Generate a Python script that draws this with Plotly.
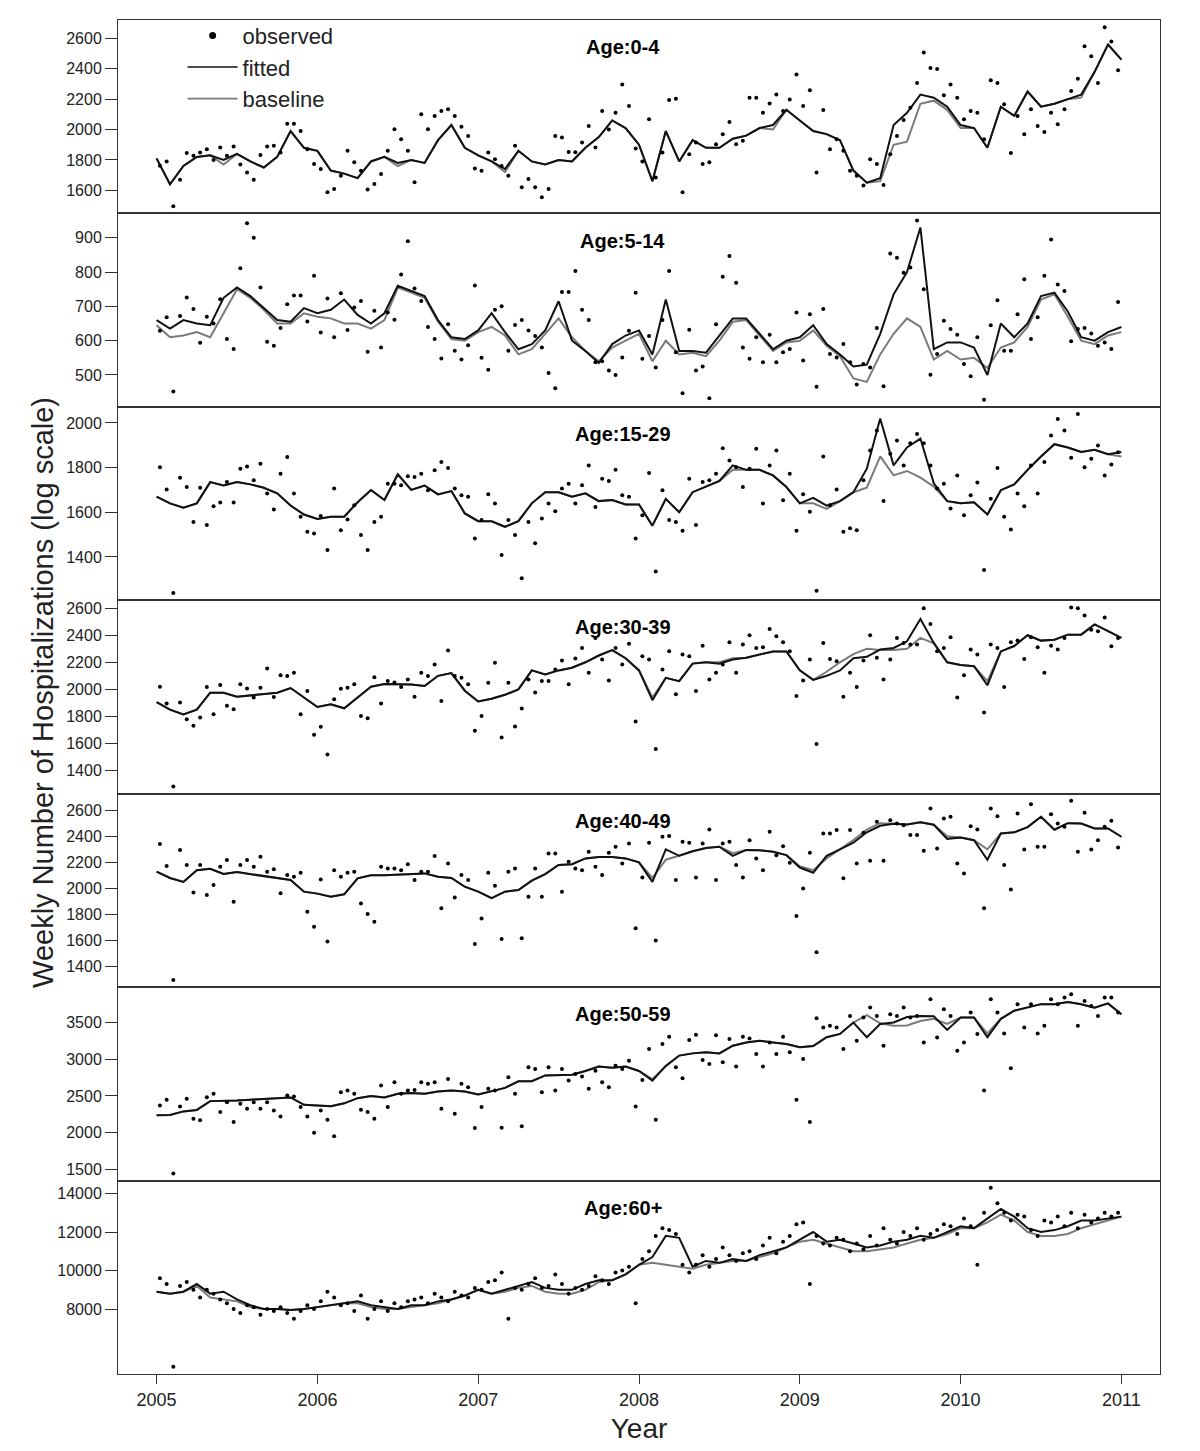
import numpy as np
import plotly.graph_objects as go
from plotly.subplots import make_subplots

# time grids (fractional years)
t_fit = 2005 + np.arange(73) / 12
t_obs = 2005 + (np.arange(144) + 0.5) / 24

# ---------------- Age 0-4 ----------------
fit_0_4 = [1810,1640,1760,1820,1830,1800,1840,1790,1750,1820,1990,1880,
           1860,1730,1710,1680,1790,1820,1780,1800,1780,1930,2030,1880,
           1830,1790,1740,1860,1790,1770,1800,1790,1880,1950,2060,2010,
           1900,1660,1990,1790,1930,1880,1880,1940,1960,2010,2030,2130,
           2060,1990,1970,1930,1730,1650,1680,2030,2110,2230,2210,2150,
           2030,2010,1880,2150,2090,2250,2150,2170,2200,2230,2380,2560,
           2460]
base_0_4 = [1810,1640,1760,1820,1830,1770,1840,1790,1750,1820,1990,1880,
            1860,1730,1710,1680,1790,1820,1760,1800,1780,1930,2030,1880,
            1830,1790,1720,1860,1790,1770,1800,1790,1880,1950,2060,2010,
            1900,1660,1990,1790,1930,1880,1880,1940,1960,2010,2000,2130,
            2060,1990,1970,1930,1730,1650,1660,1900,1920,2170,2190,2130,
            2010,2010,1880,2150,2090,2250,2150,2170,2200,2210,2380,2560,
            2460]
obs_0_4 = [1762,1790,1495,1670,1845,1827,1849,1871,1800,1882,1827,1888,1770,1718,1670,1832,1888,1893,1849,2039,2039,1991,1871,1773,
           1740,1587,1609,1696,1860,1784,1729,1605,1642,1707,1860,2002,1936,1860,1653,2100,2002,2089,2122,2133,2089,2019,1958,1744,
           1729,1849,1805,1760,1696,1893,1620,1674,1620,1554,1609,1958,1947,1853,1850,1914,2024,1882,2122,2000,2111,2297,2155,1875,
           1790,2067,1685,1849,2194,2203,1587,1838,1914,1773,1784,1904,1969,2050,1904,1926,2209,2209,2111,2172,2231,2122,2198,2362,
           2155,2259,1718,2128,1871,1936,1860,1729,1696,1631,1805,1773,1635,1838,1958,2063,2144,2307,2508,2406,2399,2225,2297,2209,
           2067,2122,2111,1936,2325,2307,2166,1845,2089,1969,2133,2024,1984,2111,2035,2133,2253,2334,2548,2482,2307,2674,2580,2390]

# ---------------- Age 5-14 ----------------
fit_5_14 = [660,635,660,650,645,725,755,730,695,660,655,695,
            680,690,720,675,650,680,760,745,730,660,610,605,
            630,680,625,575,590,630,715,600,570,535,590,615,
            630,560,720,570,570,565,615,665,665,620,575,600,
            610,645,590,560,525,530,620,735,800,930,575,595,
            595,580,500,650,610,650,730,740,685,610,600,625,
            640]
base_5_14 = [645,610,615,625,610,680,750,725,690,650,650,680,
             670,665,650,650,635,660,755,740,725,655,605,600,
             625,640,615,560,575,620,665,610,570,540,580,600,
             620,540,600,560,565,555,600,655,660,615,570,595,
             600,630,585,555,490,480,560,620,665,640,545,570,
             545,550,520,580,595,640,720,735,670,600,590,615,
             625]
obs_5_14 = [629,668,452,672,726,692,594,670,650,721,605,576,811,942,900,755,597,585,637,706,732,732,656,789,
            624,723,610,738,631,697,716,568,687,580,682,661,793,890,752,716,640,605,548,648,571,545,587,761,
            550,515,690,700,571,646,660,630,614,580,506,461,742,742,803,690,660,537,540,513,500,551,629,740,
            547,614,522,660,803,566,447,632,513,525,432,648,786,847,769,580,547,610,537,617,537,566,576,682,
            542,677,466,692,561,551,590,537,472,532,522,637,467,854,842,798,813,950,750,501,561,658,634,617,
            532,496,610,428,645,718,571,571,677,779,605,668,789,895,764,745,598,634,637,621,585,595,576,713]

# ---------------- Age 15-29 ----------------
fit_15_29 = [1670,1640,1620,1640,1735,1720,1735,1725,1710,1685,1630,1590,
             1570,1580,1580,1645,1700,1655,1770,1700,1720,1680,1695,1595,
             1560,1560,1535,1560,1640,1690,1690,1670,1685,1650,1655,1635,
             1635,1540,1660,1600,1690,1715,1740,1810,1790,1790,1765,1713,
             1640,1665,1630,1650,1690,1795,2020,1810,1890,1930,1730,1650,
             1640,1645,1590,1699,1725,1790,1850,1905,1890,1870,1880,1860,
             1870]
base_15_29 = [1670,1640,1620,1640,1735,1720,1735,1725,1710,1685,1630,1590,
              1570,1580,1580,1645,1700,1655,1770,1700,1720,1680,1695,1595,
              1560,1560,1535,1560,1640,1690,1690,1670,1685,1650,1655,1635,
              1635,1540,1660,1600,1690,1715,1740,1790,1790,1790,1765,1713,
              1640,1640,1615,1650,1690,1710,1850,1765,1785,1755,1715,1650,
              1640,1645,1590,1699,1725,1790,1850,1905,1890,1870,1880,1860,
              1850]
obs_15_29 = [1802,1702,1238,1755,1713,1557,1710,1543,1627,1644,1736,1644,1795,1805,1743,1817,1684,1612,1773,1847,1684,1580,1513,1505,
             1583,1431,1706,1520,1568,1632,1498,1431,1557,1580,1728,1728,1721,1761,1758,1773,1699,1788,1825,1798,1706,1676,1669,1483,
             1565,1681,1639,1409,1565,1498,1305,1557,1461,1572,1639,1605,1706,1728,1639,1721,1810,1624,1750,1740,1791,1676,1669,1483,
             1587,1776,1335,1699,1565,1557,1517,1750,1543,1736,1743,1773,1887,1832,1802,1713,1795,1884,1639,1810,1877,1654,1773,1517,
             1681,1602,1249,1850,1632,1702,1513,1528,1520,1743,1877,1966,1650,1862,1921,1810,1909,1951,1909,1810,1706,1728,1617,1765,
             1587,1676,1733,1342,1661,1798,1580,1523,1684,1627,1810,1684,1825,1944,2018,1966,1844,2040,1802,1840,1899,1765,1814,1869]

# ---------------- Age 30-39 ----------------
fit_30_39 = [1905,1850,1815,1850,1975,1975,1945,1955,1965,1975,2010,1940,
             1870,1890,1860,1940,2020,2040,2040,2035,2025,2100,2120,1990,
             1910,1930,1960,2000,2140,2110,2140,2160,2200,2250,2290,2230,
             2140,1920,2085,2060,2190,2200,2190,2220,2233,2257,2280,2280,
             2140,2070,2100,2140,2230,2240,2294,2306,2355,2520,2343,2200,
             2180,2171,2030,2280,2320,2400,2360,2367,2404,2404,2480,2430,
             2380]
base_30_39 = [1905,1850,1815,1850,1975,1975,1945,1955,1965,1975,2010,1940,
              1870,1890,1860,1940,2020,2040,2040,2035,2025,2100,2120,1990,
              1910,1930,1960,2000,2140,2110,2140,2160,2200,2250,2290,2230,
              2140,1940,2085,2060,2190,2200,2200,2230,2233,2257,2280,2280,
              2140,2070,2130,2200,2260,2300,2290,2290,2300,2380,2340,2200,
              2180,2171,2060,2280,2320,2400,2360,2367,2404,2404,2480,2430,
              2380]
obs_30_39 = [2020,1895,1282,1902,1780,1731,1792,2017,1816,2032,1878,1853,2037,2007,1939,2012,2154,1944,2105,2098,2122,1816,1988,1664,
             1723,1518,1927,2005,2012,2037,1804,1787,2090,1895,2061,2050,2017,2073,1946,2122,2098,2184,1914,2287,2098,2086,2037,1694,
             1804,2049,2196,1645,2049,1726,1858,2073,1976,2061,2061,2147,2213,2037,2228,2306,2122,2380,2220,2066,2306,2184,2336,1762,
             2245,2220,1559,2147,2282,1963,2257,2245,1988,2323,2073,2122,2184,2348,2122,2331,2399,2306,2311,2446,2392,2348,2282,1951,
             2066,2220,1596,2343,2225,2208,1946,2122,2017,2213,2399,2233,2073,2220,2380,2343,2331,2331,2600,2482,2282,2306,2384,1939,
             2105,2294,2257,1829,2331,2306,2017,2348,2360,2225,2384,2311,2122,2323,2294,2380,2605,2600,2546,2441,2429,2531,2318,2380]

# ---------------- Age 40-49 ----------------
fit_40_49 = [2128,2080,2050,2140,2150,2110,2125,2110,2090,2077,2064,1975,
             1960,1936,1955,2077,2100,2100,2105,2110,2115,2089,2080,2013,
             1975,1925,1975,1987,2060,2110,2180,2185,2230,2240,2240,2230,
             2200,2050,2300,2250,2285,2310,2320,2250,2295,2292,2281,2255,
             2160,2120,2250,2300,2350,2430,2480,2495,2490,2508,2488,2380,
             2390,2370,2220,2421,2430,2470,2549,2450,2500,2498,2460,2460,
             2396]
base_40_49 = [2128,2080,2050,2140,2150,2110,2125,2110,2090,2077,2064,1975,
              1960,1936,1955,2077,2100,2100,2105,2110,2115,2089,2080,2013,
              1975,1925,1975,1987,2060,2110,2180,2185,2230,2240,2240,2230,
              2200,2080,2220,2250,2285,2310,2320,2270,2295,2292,2281,2255,
              2170,2140,2230,2300,2370,2450,2500,2495,2490,2508,2488,2400,
              2390,2370,2300,2421,2430,2470,2549,2450,2500,2498,2460,2460,
              2396]
obs_40_49 = [2340,2171,1298,2294,2179,1969,2179,1949,2026,2166,2217,1898,2179,2217,2166,2243,2128,2146,1962,2102,2089,2120,1821,1706,
             2069,1592,2140,2089,2120,2128,1885,1803,1745,2166,2153,2153,2140,2186,2064,2128,2128,2248,1847,2191,1931,2102,2064,1574,
             1770,2120,2020,1612,2128,2153,1617,1936,2153,1936,2268,2268,1974,2204,2153,2140,2281,2166,2102,2273,2319,2191,2345,1694,
             2084,2350,1600,2396,2401,2064,2357,2350,2084,2345,2452,2064,2345,2357,2179,2084,2370,2230,2140,2434,2255,2324,2197,1788,
             2000,2273,1510,2421,2421,2447,2077,2447,2191,2426,2212,2511,2212,2523,2498,2485,2409,2409,2289,2613,2306,2536,2549,2191,
             2115,2477,2452,1847,2613,2554,2179,1992,2575,2299,2646,2319,2319,2569,2498,2472,2671,2281,2580,2299,2370,2472,2518,2314]

# ---------------- Age 50-59 ----------------
fit_50_59 = [2236,2240,2290,2310,2430,2430,2440,2450,2460,2465,2480,2380,
             2371,2360,2400,2470,2500,2480,2530,2540,2530,2560,2575,2560,
             2520,2565,2610,2700,2700,2780,2790,2790,2840,2900,2885,2900,
             2840,2710,2913,3050,3080,3094,3080,3185,3229,3252,3229,3207,
             3162,3180,3300,3345,3500,3300,3480,3500,3575,3590,3585,3400,
             3568,3568,3300,3550,3660,3700,3750,3750,3780,3748,3703,3760,
             3613]
base_50_59 = [2236,2240,2290,2310,2430,2430,2440,2450,2460,2465,2480,2380,
              2371,2360,2400,2470,2500,2480,2530,2540,2530,2560,2575,2560,
              2520,2565,2610,2700,2700,2780,2790,2790,2840,2900,2885,2900,
              2840,2730,2900,3050,3080,3094,3080,3185,3229,3252,3229,3207,
              3162,3180,3300,3345,3500,3600,3490,3455,3460,3520,3550,3480,
              3568,3568,3350,3550,3660,3700,3750,3750,3780,3748,3703,3760,
              3613]
obs_50_59 = [2371,2448,1446,2358,2462,2191,2168,2484,2530,2281,2416,2146,2394,2326,2416,2326,2416,2303,2222,2507,2493,2349,2222,2001,
             2303,2177,1951,2552,2575,2530,2313,2281,2191,2642,2349,2687,2530,2575,2583,2687,2665,2687,2326,2732,2258,2665,2620,2064,
             2349,2597,2575,2069,2755,2530,2087,2890,2868,2552,2890,2575,2868,2710,2800,2764,2597,2845,2687,2620,2913,2868,2981,2358,
             2719,3139,2177,3207,3306,2890,2742,3261,3333,2990,2936,3328,2958,3274,2900,3306,3284,3071,2900,3229,3071,3306,3094,2448,
             3004,2146,3559,3432,3455,3432,3139,3590,3252,3568,3703,3590,3184,3613,3590,3703,3568,3590,3229,3816,3297,3681,3590,3116,
             3229,3635,3342,2574,3816,3635,3351,2877,3748,3432,3748,3351,3455,3816,3748,3839,3884,3455,3793,3726,3590,3839,3839,3635]

# ---------------- Age 60+ ----------------
fit_60 = [8900,8800,8900,9300,8800,8900,8500,8200,8000,8000,7950,8000,
          8100,8200,8300,8400,8200,8100,8000,8200,8200,8400,8500,8700,
          9000,8800,9000,9200,9400,9100,9000,9000,9300,9500,9500,9800,
          10300,10700,11800,11700,10200,10500,10400,10600,10500,10800,11000,11200,
          11600,12000,11500,11600,11400,11200,11300,11500,11600,11800,11700,12000,
          12300,12200,12700,13200,12800,12200,12000,12100,12300,12600,12600,12700,
          12800]
base_60 = [8900,8800,8900,9200,8600,8500,8400,8100,8000,8000,7950,8000,
           8100,8200,8300,8300,8100,8000,8000,8100,8200,8300,8500,8700,
           9000,8800,8900,9100,9200,8900,8800,8800,9000,9400,9500,9800,
           10300,10400,10300,10200,10100,10300,10400,10500,10500,10700,10900,11200,
           11500,11600,11400,11200,11000,11000,11100,11200,11400,11600,11700,11900,
           12200,12200,12500,12900,12600,12000,11800,11800,11900,12200,12400,12600,
           12800]
obs_60 = [9600,9300,5000,9200,9400,9000,8600,9000,8800,8500,8300,8000,7800,8200,8100,7700,8000,7900,8100,7800,7500,7900,8200,8000,
          8400,8900,8600,8200,8300,7900,8700,7500,8000,8400,7900,8300,8100,8400,8500,8600,8300,8800,8600,8400,8900,8700,8600,9100,
          9000,9400,9500,9900,7500,9100,9000,9300,9600,9100,9200,9800,9300,8800,9100,9000,9200,9700,9500,9300,9900,10000,10200,8300,
          10600,11000,11800,12200,12100,11900,10300,9900,10300,10800,10200,10600,11200,10800,10500,10900,11000,10600,11300,11700,10900,11500,11800,12400,
          12500,9300,11800,11400,11300,11700,11600,11000,11400,11100,11800,11300,12200,11600,11400,12000,11800,12200,11600,11900,12100,12400,12300,11900,
          12700,12300,10300,13000,14300,13500,13000,12600,12900,12800,12100,11800,12600,12500,12800,12300,13000,12200,12900,12500,12700,13000,12800,13000]

titles = ["Age:0-4", "Age:5-14", "Age:15-29", "Age:30-39", "Age:40-49", "Age:50-59", "Age:60+"]
fits = [fit_0_4, fit_5_14, fit_15_29, fit_30_39, fit_40_49, fit_50_59, fit_60]
bases = [base_0_4, base_5_14, base_15_29, base_30_39, base_40_49, base_50_59, base_60]
obss = [obs_0_4, obs_5_14, obs_15_29, obs_30_39, obs_40_49, obs_50_59, obs_60]
y_ticks = [[1600, 1800, 2000, 2200, 2400, 2600],
           [500, 600, 700, 800, 900],
           [1400, 1600, 1800, 2000],
           [1400, 1600, 1800, 2000, 2200, 2400, 2600],
           [1400, 1600, 1800, 2000, 2200, 2400, 2600],
           [1500, 2000, 2500, 3000, 3500],
           [8000, 10000, 12000, 14000]]
year_ticks = [2005, 2006, 2007, 2008, 2009, 2010, 2011]

FONT = "Liberation Sans, Arial, Helvetica, sans-serif"
INK = "#222222"
GREY = "#7a7a7a"


def padded(values_lists):
    allv = np.concatenate([np.asarray(v, float) for v in values_lists])
    lo, hi = allv.min(), allv.max()
    pad = 0.04 * (hi - lo)
    return [lo - pad, hi + pad]


fig = make_subplots(rows=7, cols=1, shared_xaxes=True, vertical_spacing=0)

for i in range(7):
    r = i + 1
    fig.add_trace(go.Scatter(x=t_fit, y=bases[i], mode="lines", name="baseline",
                             line=dict(color=GREY, width=2), showlegend=False), row=r, col=1)
    fig.add_trace(go.Scatter(x=t_fit, y=fits[i], mode="lines", name="fitted",
                             line=dict(color="#111111", width=2), showlegend=False), row=r, col=1)
    fig.add_trace(go.Scatter(x=t_obs, y=obss[i], mode="markers", name="observed",
                             marker=dict(color="black", size=4), showlegend=False), row=r, col=1)
    fig.update_yaxes(range=padded([fits[i], bases[i], obss[i]]), tickvals=y_ticks[i],
                     tickformat="d",
                     showline=True, mirror=True, linecolor="#333333", linewidth=1,
                     ticks="outside", ticklen=12, tickcolor="#333333", tickwidth=1,
                     showgrid=False, zeroline=False,
                     tickfont=dict(family=FONT, size=16, color=INK),
                     row=r, col=1)
    yref = "y domain" if r == 1 else f"y{r} domain"
    xref = "x" if r == 1 else f"x{r}"
    fig.add_annotation(x=2007.9, y=0.86, xref=xref, yref=yref, text=f"<b>{titles[i]}</b>",
                       showarrow=False, xanchor="center", yanchor="middle",
                       font=dict(family=FONT, size=20, color="black"))

# legend entries (no data points of their own)
fig.add_trace(go.Scatter(x=[None], y=[None], mode="markers", name="observed",
                         marker=dict(color="black", size=7), legendrank=1), row=1, col=1)
fig.add_trace(go.Scatter(x=[None], y=[None], mode="lines", name="fitted",
                         line=dict(color="#111111", width=1.6), legendrank=2), row=1, col=1)
fig.add_trace(go.Scatter(x=[None], y=[None], mode="lines", name="baseline",
                         line=dict(color=GREY, width=1.6), legendrank=3), row=1, col=1)

fig.update_xaxes(range=[2004.76, 2011.24], showline=True, mirror=True,
                 linecolor="#333333", linewidth=1, showgrid=False, zeroline=False)
fig.update_xaxes(tickvals=year_ticks, ticks="outside", ticklen=9, tickcolor="#333333",
                 tickfont=dict(family=FONT, size=18, color=INK),
                 title=dict(text="Year", font=dict(family=FONT, size=28, color=INK), standoff=9),
                 row=7, col=1)

fig.add_annotation(x=-0.072, y=0.5037, xref="paper", yref="paper",
                   text="Weekly Number of Hospitalizations (log scale)", textangle=-90,
                   showarrow=False, xanchor="center", yanchor="middle",
                   font=dict(family=FONT, size=29, color=INK))

fig.update_layout(
    width=1200, height=1451, autosize=False,
    margin=dict(l=110, r=48, t=7, b=85),
    plot_bgcolor="white", paper_bgcolor="white",
    font=dict(family=FONT, color=INK),
    legend=dict(x=0.062, y=1.004, xanchor="left", yanchor="top",
                bgcolor="rgba(0,0,0,0)", font=dict(family=FONT, size=22, color=INK),
                itemsizing="trace", itemwidth=50, tracegroupgap=0),
)

fig.write_html("out.html")
